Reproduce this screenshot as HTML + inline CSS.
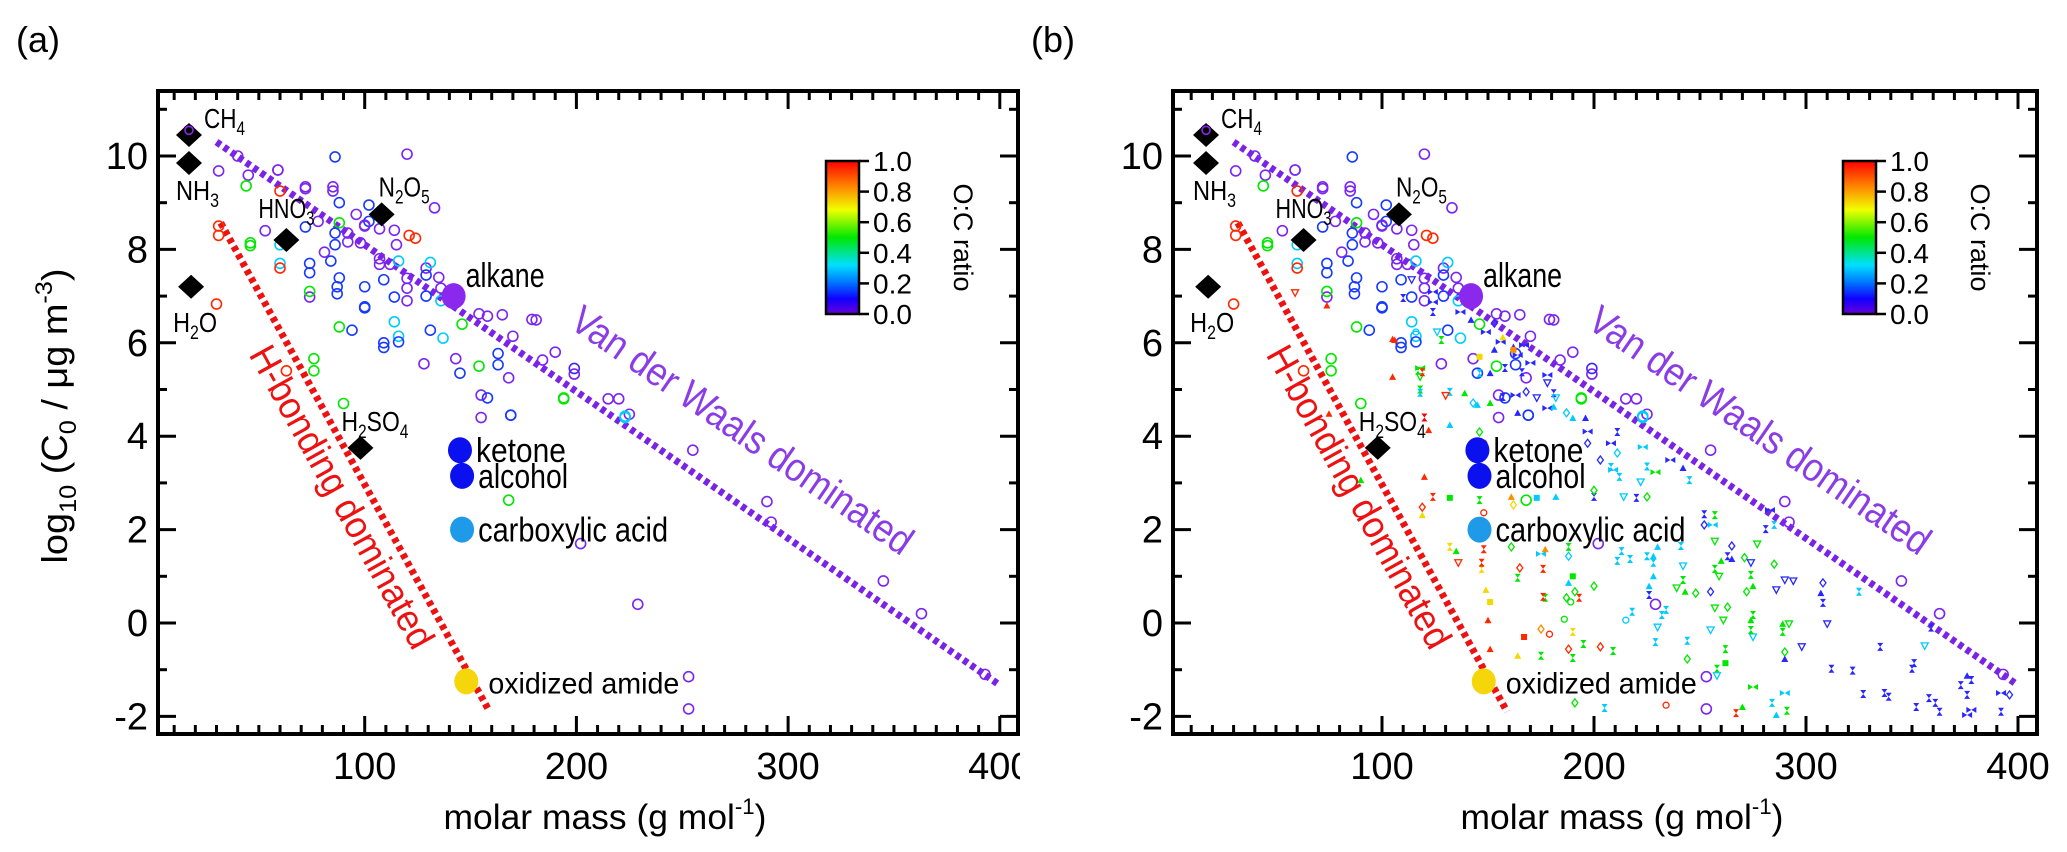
<!DOCTYPE html>
<html><head><meta charset="utf-8"><style>
body{margin:0;background:#fff;}
svg{display:block;font-family:"Liberation Sans",sans-serif;}
</style></head>
<body>
<svg id="fig" width="2067" height="852" viewBox="0 0 2067 852" xmlns="http://www.w3.org/2000/svg">
<defs>
<linearGradient id="cbar" x1="0" y1="1" x2="0" y2="0">
<stop offset="0" stop-color="#6a00d8"/><stop offset="0.1" stop-color="#1000ff"/><stop offset="0.2" stop-color="#0070ff"/><stop offset="0.32" stop-color="#00e0ff"/><stop offset="0.5" stop-color="#00e800"/><stop offset="0.68" stop-color="#f0ff00"/><stop offset="0.84" stop-color="#ff8000"/><stop offset="1" stop-color="#ff0000"/>
</linearGradient>
<clipPath id="clipA"><rect x="0" y="0" width="1020" height="852"/></clipPath>
</defs>
</svg>
<script>
// ---- data (molar mass, log10 C0, O:C ratio) ----
const circleMass = [17,86,120,31,45,44,60,59,72,85,85,88,102,133,72,53,78,88,86,92,96,100,102,107,121,124,114,31,31,46,46,60,60,60,74,74,86,84,81,92,98,107,107,112,116,88,87,87,100,109,120,120,120,129,129,131,129,74,74,100,100,100,114,136,136,154,158,146,88,94,114,116,131,137,109,109,116,170,181,184,143,128,163,163,145,154,168,199,199,155,158,194,215,225,223,169,169,155,76,76,90,63,30,168,202,229,253,253,292,179,194,223,40,59,72,100,115,135,165,190,220,255,290,345,363,393];
const circleLogC = [10.55,9.98,10.04,9.68,9.59,9.36,9.25,9.7,9.34,9.34,9.25,9.0,8.95,8.89,8.48,8.4,8.6,8.57,8.35,8.35,8.75,8.52,8.6,8.44,8.3,8.24,8.41,8.3,8.5,8.14,8.08,8.1,7.7,7.6,7.7,7.5,8.1,7.75,7.94,8.16,8.14,7.8,7.68,7.68,7.75,7.39,7.2,7.05,7.2,7.35,7.38,7.17,6.9,7.6,7.45,7.72,7.0,6.98,7.1,6.75,6.75,6.77,6.98,7.17,6.9,6.62,6.57,6.4,6.34,6.27,6.45,6.14,6.27,6.1,6.0,5.9,6.02,6.14,6.49,5.63,5.66,5.55,5.77,5.53,5.35,5.5,5.25,5.33,5.45,4.88,4.82,4.82,4.8,4.47,4.43,4.45,4.45,4.4,5.66,5.4,4.7,5.4,6.83,2.63,1.7,0.4,-1.15,-1.84,2.16,6.5,4.8,4.4,10.0,9.7,9.3,8.5,8.1,7.4,6.6,5.8,4.8,3.7,2.6,0.9,0.2,-1.1];
const circleOC = [0.02,0.15,0.03,0.03,0.03,0.5,0.95,0.03,0.03,0.03,0.03,0.15,0.15,0.03,0.15,0.03,0.03,0.5,0.15,0.03,0.03,0.03,0.15,0.03,0.95,0.95,0.03,0.95,0.95,0.5,0.5,0.3,0.3,0.95,0.15,0.15,0.15,0.15,0.03,0.03,0.03,0.03,0.03,0.03,0.3,0.15,0.15,0.15,0.15,0.15,0.03,0.03,0.03,0.03,0.15,0.3,0.15,0.03,0.5,0.15,0.15,0.15,0.15,0.03,0.3,0.03,0.03,0.5,0.5,0.15,0.3,0.3,0.15,0.3,0.15,0.15,0.15,0.03,0.03,0.03,0.03,0.03,0.15,0.15,0.15,0.5,0.03,0.03,0.1,0.03,0.15,0.5,0.03,0.03,0.3,0.15,0.15,0.03,0.5,0.5,0.5,0.95,0.95,0.5,0.03,0.03,0.03,0.03,0.03,0.03,0.5,0.3,0.03,0.03,0.03,0.03,0.03,0.03,0.03,0.03,0.03,0.03,0.03,0.03,0.03,0.03];
// panel (b) extra small markers
const markMass = [110,114,124,124,124,137,142,149,153,156,162,167,153,164,170,178,158,151,166,178,181,182,163,168,178,164,190,196,197,197,208,211,211,208,212,209,200,203,214,220,223,225,236,242,245,222,229,225,187,181,173,157,146,143,139,132,128,126,116,118,118,118,106,119,132,146,148,122,120,124,119,119,132,146,161,162,173,182,200,148,157,146,162,151,145,
252,252,257,256,265,277,281,285,283,263,265,257,260,257,259,271,274,274,272,275,285,286,290,294,308,307,308,325,310,298,335,356,312,322,351,350,327,337,339,352,358,361,363,376,378,373,376,378,376,392,396,392,359,290,290,275,290,284,286,291,270,267,258,258,262,262,275,274,274,275,289,292,289,255,261,257,263,244,244,229,230,232,234,218,215,226,228,226,243,239,242,248,255,242,228,228,225,217,213,211,230,241,188,188,175,177,161,188,191,190,200,193,187,189,177,186,190,175,179,167,151,150,151,149,164,176,165,176,147,147,135,132,136,148,164,175,190,188,195,203,209,191,205,234,
59,74,105,105,75,90,117,118,130,120];
const markLogC = [6.96,7.35,7.09,6.87,6.66,6.66,6.49,6.23,6.42,6.02,5.91,5.95,5.85,5.74,5.57,5.31,5.46,5.35,5.37,5.14,4.92,4.82,4.88,4.95,4.6,4.5,4.39,4.39,4.1,3.85,3.85,4.09,3.64,3.34,3.13,3.28,2.7,3.49,2.7,2.68,3.77,3.35,3.49,3.32,3.06,3.02,3.23,2.7,4.5,4.63,4.82,4.84,5.35,4.71,4.92,4.95,6.06,6.23,6.23,5.46,5.27,5.0,6.06,5.37,4.24,4.09,3.85,4.13,3.13,2.7,2.48,2.31,2.68,2.63,2.7,2.53,2.68,2.7,2.84,2.36,6.12,5.7,5.85,4.71,4.67,
2.33,2.1,2.31,2.1,1.65,1.69,2.01,2.1,2.42,1.43,1.37,1.75,1.33,1.16,1.0,1.4,1.29,1.03,0.67,0.79,1.26,0.71,0.92,0.9,0.86,0.64,0.43,0.67,-0.02,-0.51,-0.51,-0.49,-0.98,-1.02,-0.86,-0.98,-1.52,-1.5,-1.58,-1.8,-1.61,-1.71,-1.9,-1.13,-1.22,-1.33,-1.54,-1.86,-1.97,-1.5,-1.54,-1.9,-0.1,-0.62,-0.77,-1.37,-1.5,-1.71,-1.97,-1.88,-1.8,-1.93,-0.98,-1.13,-0.56,-0.86,-0.3,-0.15,0.06,0.17,-0.02,-0.02,-0.19,-0.15,0.06,0.32,0.34,-0.38,-0.77,-0.41,-0.09,0.17,0.28,0.24,0.06,0.79,1.0,0.6,0.67,0.75,0.92,0.64,0.67,1.22,1.43,1.29,1.43,1.37,1.54,1.33,1.63,1.65,1.43,1.63,1.48,1.58,1.63,0.86,0.67,1.0,0.79,0.54,0.54,0.45,0.54,0.08,-0.19,-0.13,-0.24,-0.3,-0.56,0.06,0.45,0.71,0.97,0.56,1.18,1.16,1.16,1.29,1.54,1.63,1.29,1.58,-0.7,-0.7,-0.75,-0.56,-0.45,-0.51,-0.6,-1.71,-1.82,-1.76,
7.07,6.8,6.08,5.27,4.48,3.06,5.4,4.93,4.87,4.4];
const markOC = [0.12,0.12,0.12,0.12,0.12,0.12,0.12,0.12,0.12,0.12,0.12,0.12,0.12,0.12,0.12,0.12,0.12,0.12,0.12,0.12,0.12,0.3,0.12,0.12,0.12,0.12,0.3,0.12,0.12,0.12,0.12,0.12,0.3,0.3,0.3,0.3,0.12,0.12,0.3,0.12,0.3,0.3,0.12,0.12,0.3,0.3,0.5,0.5,0.3,0.3,0.12,0.12,0.3,0.3,0.5,0.3,0.5,0.3,0.3,0.5,0.5,0.5,0.95,0.95,0.3,0.5,0.95,0.95,0.95,0.95,0.95,0.7,0.5,0.5,0.82,0.7,0.3,0.3,0.5,0.95,0.7,0.7,0.82,0.5,0.3,
0.12,0.12,0.5,0.3,0.12,0.5,0.12,0.3,0.12,0.12,0.12,0.5,0.5,0.5,0.5,0.5,0.12,0.5,0.5,0.5,0.5,0.12,0.12,0.12,0.12,0.12,0.12,0.3,0.12,0.12,0.12,0.3,0.12,0.12,0.12,0.12,0.12,0.12,0.12,0.12,0.12,0.12,0.12,0.12,0.12,0.12,0.12,0.12,0.12,0.12,0.12,0.12,0.12,0.5,0.12,0.5,0.3,0.3,0.3,0.5,0.5,0.95,0.5,0.3,0.5,0.5,0.3,0.5,0.5,0.5,0.5,0.5,0.5,0.3,0.5,0.5,0.5,0.3,0.5,0.3,0.3,0.3,0.3,0.3,0.3,0.3,0.3,0.12,0.5,0.5,0.5,0.5,0.12,0.3,0.3,0.3,0.3,0.3,0.3,0.3,0.3,0.3,0.3,0.5,0.3,0.82,0.5,0.3,0.5,0.5,0.5,0.95,0.5,0.5,0.5,0.5,0.7,0.82,0.95,0.95,0.95,0.95,0.7,0.7,0.5,0.95,0.95,0.95,0.7,0.95,0.5,0.7,0.95,0.95,0.7,0.5,0.5,0.95,0.5,0.95,0.5,0.5,0.3,
0.95,0.95,0.95,0.95,0.95,0.95,0.5,0.5,0.3,0.95];
const markShape = "xvhhxhthdhththhhxtxvxvhdhttthdhxdxxhxdvxhxhtxvhddtvxxdtxxvcbvxtxtdcttxdtsxtdstdctssttxd" + "xbdvxxbxtvtxvdvxdtdvvvdtxxvvxvxxxxxxxxxxxtxxxbbbdxxdtbbxtxtxxvxsvxtxtvxvvvdxdxvxxxcttxtvxddvtxxxxxtxdxhtdtdsdxdcxcxdcsttstxxdxxxtxvxtxxdxdxdxcvtttttxxvx";
// special compounds
const molNames = ["CH4","NH3","H2O","HNO3","N2O5","H2SO4"];
const molMass = [17,17,18,63,108,98];
const molLogC = [10.45,9.85,7.2,8.2,8.75,3.75];
const refNames = ["alkane","ketone","alcohol","carboxylic acid","oxidized amide"];
const refMass = [142,145,146,146,148];
const refLogC = [7.0,3.7,3.15,2.0,-1.25];
const refColor = ["#8a28ee","#0a10ee","#0a10ee","#1e9ae8","#f5d60a"];
const vdwLine = [[30,10.3],[399,-1.3]];
const hbLine = [[32,8.57],[159,-1.9]];
const xTicks = [100,200,300,400];
const yTicks = [10,8,6,4,2,0,-2];
const cbTicks = ["0.0","0.2","0.4","0.6","0.8","1.0"];

const NS="http://www.w3.org/2000/svg";
const svg=document.getElementById('fig');
function mk(tag,attrs,parent){const e=document.createElementNS(NS,tag);for(const k in attrs)e.setAttribute(k,attrs[k]);(parent||svg).appendChild(e);return e;}
const stops=[[0,[136,44,240]],[0.06,[110,30,245]],[0.13,[30,40,255]],[0.22,[0,120,255]],[0.32,[0,224,255]],[0.5,[0,232,0]],[0.68,[240,230,0]],[0.84,[255,128,0]],[1,[255,0,0]]];
function cmap(v){for(let i=1;i<stops.length;i++){if(v<=stops[i][0]){const a=stops[i-1],b=stops[i];const t=(v-a[0])/(b[0]-a[0]);const c=a[1].map((x,j)=>Math.round(x+(b[1][j]-x)*t));return `rgb(${c})`;}}return 'rgb(255,0,0)';}
const yMap=v=>156+(10-v)*46.7;
const Y0=91,Y1=734;
const refW=[79,90,90,190,191];
const molW=[41,43,44,56,51,67];

function panel(tag,x0,kx,left,right,withMarks){
  const xMap=m=>x0+m*kx;
  const g=mk('g',{});
  
  
  const pl=mk('text',{x:left-142,y:52,'font-size':36},g);pl.textContent='('+tag+')';
  
  const fr=mk('rect',{x:left,y:Y0,width:right-left,height:Y1-Y0,fill:'none',stroke:'#000','stroke-width':4},g);
  
  for(let m=10;m<=400;m+=10){const px=xMap(m);if(px<=left+2||px>=right-2)continue;const L=(m%100===0)?18:9;
    mk('line',{x1:px,y1:Y1,x2:px,y2:Y1-L,stroke:'#000','stroke-width':3},g);
    mk('line',{x1:px,y1:Y0,x2:px,y2:Y0+L,stroke:'#000','stroke-width':3},g);}
  const xg=mk('g',tag==='a'?{'clip-path':'url(#clipA)'}:{},g);
  xTicks.forEach(t=>{const e=mk('text',{x:xMap(t),y:779,'font-size':38,'text-anchor':'middle'},xg);e.textContent=t;
    });
  for(let v=-2;v<=11;v++){const py=yMap(v);const L=(v%2===0)?18:9;
    mk('line',{x1:left,y1:py,x2:left+L,y2:py,stroke:'#000','stroke-width':3},g);
    mk('line',{x1:right,y1:py,x2:right-L,y2:py,stroke:'#000','stroke-width':3},g);}
  yTicks.forEach(t=>{const e=mk('text',{x:left-10,y:yMap(t)+13,'font-size':38,'text-anchor':'end'},g);e.textContent=t;
    });
  const xt=mk('text',{x:(left+right)/2+17,y:829,'font-size':35,'text-anchor':'middle',textLength:323,lengthAdjust:'spacingAndGlyphs'},g);
  xt.innerHTML='molar mass (g mol<tspan dy="-15" font-size="22">-1</tspan><tspan dy="15">)</tspan>';
  
  if(tag==='a'){const yt=mk('text',{x:0,y:0,'font-size':36,'text-anchor':'middle',textLength:295,lengthAdjust:'spacingAndGlyphs',transform:'translate(67,416) rotate(-90)'},g);
    yt.innerHTML='log<tspan dy="9" font-size="24">10</tspan><tspan dy="-9"> (C</tspan><tspan dy="9" font-size="24">0</tspan><tspan dy="-9"> / μg m</tspan><tspan dy="-15" font-size="24">-3</tspan><tspan dy="15">)</tspan>';
    }
  const v=mk('line',{x1:xMap(vdwLine[0][0]),y1:yMap(vdwLine[0][1]),x2:xMap(vdwLine[1][0]),y2:yMap(vdwLine[1][1]),stroke:'#7a22e6','stroke-width':7,'stroke-dasharray':'5 4'},g);
  
  const h=mk('line',{x1:xMap(hbLine[0][0]),y1:yMap(hbLine[0][1]),x2:xMap(hbLine[1][0]),y2:yMap(hbLine[1][1]),stroke:'#ee1111','stroke-width':7,'stroke-dasharray':'5 4'},g);
  
  circleMass.forEach((m,i)=>{const c=mk('circle',{cx:xMap(m),cy:yMap(circleLogC[i]),r:5,fill:'none',stroke:cmap(circleOC[i]),'stroke-width':1.6},g);
    });
  if(withMarks){markMass.forEach((m,i)=>{const x=xMap(m),y=yMap(markLogC[i]),col=cmap(markOC[i]),s=markShape[i]||'x';let e;
    if(s==='t')e=mk('path',{d:`M${x-3.5},${y+3}L${x+3.5},${y+3}L${x},${y-3.5}Z`,fill:col},g);
    else if(s==='v')e=mk('path',{d:`M${x-3.5},${y-3}L${x+3.5},${y-3}L${x},${y+3.5}Z`,fill:'none',stroke:col,'stroke-width':1.3},g);
    else if(s==='h'||s==='b')e=mk('path',{d:`M${x-5},${y-3}L${x+5},${y+3}L${x+5},${y-3}L${x-5},${y+3}Z`,fill:col},g);
    else if(s==='d')e=mk('path',{d:`M${x},${y-4}L${x+3},${y}L${x},${y+4}L${x-3},${y}Z`,fill:'none',stroke:col,'stroke-width':1.3},g);
    else if(s==='s')e=mk('rect',{x:x-3,y:y-3,width:6,height:6,fill:col},g);
    else if(s==='c')e=mk('circle',{cx:x,cy:y,r:3,fill:'none',stroke:col,'stroke-width':1.3},g);
    else e=mk('path',{d:`M${x-3},${y-4}L${x+3},${y+4}L${x-3},${y+4}L${x+3},${y-4}Z`,fill:col},g);
    });}
  refNames.forEach((n,i)=>{const x=xMap(refMass[i]),y=yMap(refLogC[i]);
    const c=mk('ellipse',{cx:x,cy:y,rx:12,ry:13,fill:refColor[i]},g);
    
    const t=mk('text',{x:x+(i===0?12:i===4?22:16),y:y+(i===0?-9:12),'font-size':i===4?30:34,textLength:refW[i],lengthAdjust:'spacingAndGlyphs'},g);t.textContent=n;
    });
  const subs={CH4:'CH<tspan dy="7" font-size="19">4</tspan>',NH3:'NH<tspan dy="7" font-size="19">3</tspan>',H2O:'H<tspan dy="7" font-size="19">2</tspan><tspan dy="-7">O</tspan>',HNO3:'HNO<tspan dy="7" font-size="19">3</tspan>',N2O5:'N<tspan dy="7" font-size="19">2</tspan><tspan dy="-7">O</tspan><tspan dy="7" font-size="19">5</tspan>',H2SO4:'H<tspan dy="7" font-size="19">2</tspan><tspan dy="-7">SO</tspan><tspan dy="7" font-size="19">4</tspan>'};
  const loff=[[15,-7],[-13,37],[-18,45],[-28,-22],[-3,-18],[-19,-17]];
  molNames.forEach((n,i)=>{const x=xMap(molMass[i]),y=yMap(molLogC[i]);
    const d=mk('path',{d:`M${x},${y-12}L${x+13},${y}L${x},${y+12}L${x-13},${y}Z`,fill:'#000'},g);
    
    const t=mk('text',{x:x+loff[i][0],y:y+loff[i][1],'font-size':28,textLength:molW[i],lengthAdjust:'spacingAndGlyphs'},g);t.innerHTML=subs[n];
    });
  mk('circle',{cx:xMap(17),cy:yMap(10.55),r:4,fill:'none',stroke:'#8a28ee','stroke-width':1.6},g);
  const vt=mk('text',{x:0,y:0,'font-size':40,fill:'#8a3ce6',textLength:405,lengthAdjust:'spacingAndGlyphs',transform:`translate(${xMap(196)},${yMap(6.35)}) rotate(34.6)`},g);vt.textContent='Van der Waals dominated';
  
  const ht=mk('text',{x:0,y:0,'font-size':38,fill:'#ee1111',textLength:340,lengthAdjust:'spacingAndGlyphs',transform:`translate(${xMap(45)},${yMap(5.75)}) rotate(61)`},g);ht.textContent='H-bonding dominated';
  
  const cbx=x0+673, cby0=161, cby1=314;
  const cb=mk('rect',{x:cbx,y:cby0,width:33,height:cby1-cby0,fill:'url(#cbar)',stroke:'#000','stroke-width':2.5},g);
  
  cbTicks.forEach((t,i)=>{const y=cby1-i*(cby1-cby0)/5;mk('line',{x1:cbx+33,y1:y,x2:cbx+43,y2:y,stroke:'#000','stroke-width':2.5},g);
    const e=mk('text',{x:cbx+47,y:y+10,'font-size':28},g);e.textContent=t;
    });
  const ct=mk('text',{x:0,y:0,'font-size':27,'text-anchor':'middle',transform:`translate(${cbx+128},${(cby0+cby1)/2}) rotate(90)`},g);ct.textContent='O:C ratio';
  
}
panel('a',153,2.117,158,1018,false);
panel('b',1170,2.12,1173,2037,true);
</script>
</body></html>
